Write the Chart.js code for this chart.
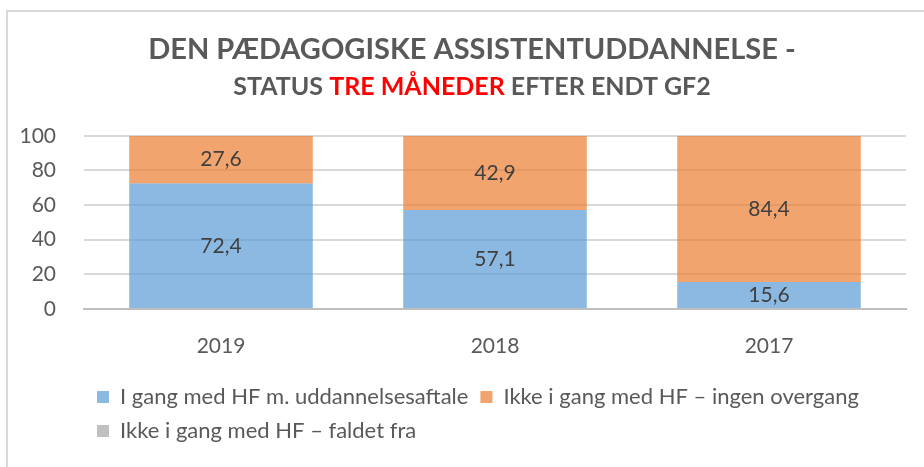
<!DOCTYPE html>
<html>
<head>
<meta charset="utf-8">
<script src="https://cdn.jsdelivr.net/npm/chart.js@4.4.1/dist/chart.umd.min.js"></script>
<style>
  html, body { margin: 0; padding: 0; background: #fff; }
  #frame { position: absolute; left: 6px; top: 10px; width: 940px; height: 480px;
           border-left: 2px solid #d9d9d9; border-top: 2px solid #d9d9d9; }
  #wrap { position: absolute; left: 0; top: 0; width: 924px; height: 467px; }
</style>
</head>
<body>
<div id="frame"></div>
<div id="wrap"><canvas id="chart"></canvas></div>
<script>
  const years = ['2019', '2018', '2017'];
  const medAftale = [72.4, 57.1, 15.6];
  const ingenOvergang = [27.6, 42.9, 84.4];
  const faldetFra = [0, 0, 0];
  const seriesNames = ['I gang med HF m. uddannelsesaftale', 'Ikke i gang med HF \u2013 ingen overgang', 'Ikke i gang med HF \u2013 faldet fra'];
  const yTicks = [0, 20, 40, 60, 80, 100];

  const titleLine = 'DEN PÆDAGOGISKE ASSISTENTUDDANNELSE -';
  const subParts = [['STATUS ', '#595959'], ['TRE MÅNEDER', '#ff0000'], [' EFTER ENDT GF2', '#595959']];
  const subText = subParts.map(p => p[0]).join('');

  const FONT = 'Lato';
  const GREY = '#595959';

  const findSubtitle = chart => chart.boxes.find(b => b !== chart.titleBlock && b.options && b.options.text === subText);

  // subtitle in several colours: Chart.js keeps the space, we paint the words
  const subtitleColours = {
    id: 'subtitleColours',
    afterDraw(chart) {
      const st = findSubtitle(chart);
      if (!st) return;
      const o = st.options;
      const ctx = chart.ctx;
      const size = o.font.size;
      const y = st.top + o.padding.top + size * 1.2 / 2;
      ctx.save();
      ctx.font = `bold ${size}px ${FONT}`;
      ctx.textBaseline = 'middle';
      ctx.textAlign = 'left';
      const total = subParts.reduce((a, p) => a + ctx.measureText(p[0]).width, 0);
      let x = (st.left + st.right) / 2 - total / 2;
      subParts.forEach(p => { ctx.fillStyle = p[1]; ctx.fillText(p[0], x, y); x += ctx.measureText(p[0]).width; });
      ctx.restore();
    }
  };

  const valueLabels = {
    id: 'valueLabels',
    afterDatasetsDraw(chart) {
      const ctx = chart.ctx;
      ctx.save();
      ctx.font = `21px ${FONT}`;
      ctx.fillStyle = '#404040';
      ctx.textAlign = 'center';
      ctx.textBaseline = 'middle';
      chart.data.datasets.forEach((ds, di) => {
        chart.getDatasetMeta(di).data.forEach((bar, i) => {
          const v = ds.data[i];
          if (!v) return;
          ctx.fillText(v.toFixed(1).replace('.', ','), bar.x, (bar.y + bar.base) / 2);
        });
      });
      ctx.restore();
    }
  };

  // legend starts under the plot; titles centred on the framed box
  const boxShift = {
    id: 'boxShift',
    afterLayout(chart) {
      chart.legend.left = 85;
      chart.titleBlock.left += 18;
      const st = findSubtitle(chart);
      if (st) st.left += 18;
    }
  };

  new Chart(document.getElementById('chart'), {
    type: 'bar',
    data: {
      labels: years,
      datasets: [
        { label: seriesNames[0], data: medAftale, backgroundColor: 'rgba(91,155,213,0.7)' },
        { label: seriesNames[1], data: ingenOvergang, backgroundColor: 'rgba(237,125,49,0.7)' },
        { label: seriesNames[2], data: faldetFra, backgroundColor: 'rgba(165,165,165,0.7)' }
      ]
    },
    options: {
      responsive: true,
      maintainAspectRatio: false,
      animation: false,
      layout: { padding: { left: 20, right: 18, top: 0, bottom: 15 } },
      datasets: { bar: { categoryPercentage: 1, barPercentage: 0.67 } },
      scales: {
        x: {
          stacked: true,
          grid: { display: false },
          border: { display: true, color: '#bfbfbf', width: 2 },
          ticks: { color: GREY, font: { family: FONT, size: 21 }, padding: 17 },
          afterFit(s) { s.height = 65; }
        },
        y: {
          stacked: true,
          min: 0, max: 100,
          afterBuildTicks(s) { s.ticks = yTicks.map(v => ({ value: v })); },
          grid: { color: '#d9d9d9', lineWidth: 2, drawTicks: false },
          border: { display: false },
          ticks: { color: GREY, font: { family: FONT, size: 21 }, padding: 28 },
          afterFit(s) { s.width = 64; }
        }
      },
      plugins: {
        title: {
          display: true, text: titleLine, color: GREY,
          font: { family: FONT, size: 29, weight: 'bold' },
          padding: { top: 32, bottom: 0 }
        },
        subtitle: {
          display: true, text: subText, color: 'rgba(0,0,0,0)',
          font: { family: FONT, size: 25, weight: 'bold' },
          padding: { top: 5, bottom: 34 }
        },
        legend: {
          position: 'bottom', align: 'start',
          labels: { color: GREY, font: { family: FONT, size: 22 }, boxWidth: 12, boxHeight: 12, padding: 12 }
        },
        tooltip: { enabled: false }
      }
    },
    plugins: [subtitleColours, valueLabels, boxShift]
  });
</script>
</body>
</html>
